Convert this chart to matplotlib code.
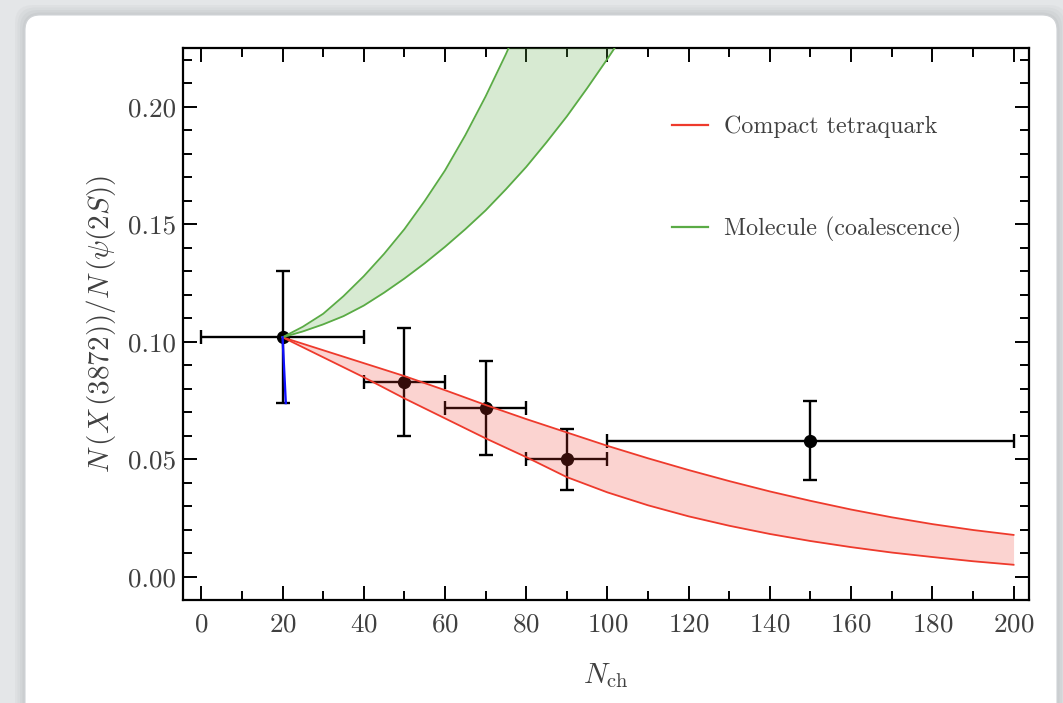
# coding: utf-8

import matplotlib
matplotlib.use("Agg")
import matplotlib.pyplot as plt
from matplotlib.patches import FancyBboxPatch
from matplotlib.ticker import MultipleLocator, FormatStrFormatter

# measured points: N_ch bin centre, bin half widths, ratio and its errors
nch = [20, 50, 70, 90, 150]
nch_lo = [20, 10, 10, 10, 50]
nch_hi = [20, 10, 10, 10, 50]
ratio = [0.102, 0.083, 0.072, 0.050, 0.058]
ratio_lo = [0.028, 0.023, 0.020, 0.0128, 0.0167]
ratio_hi = [0.028, 0.023, 0.020, 0.013, 0.017]

# compact tetraquark band
tq_x = [20, 30, 40, 50, 60, 70, 80, 90, 100, 110, 120, 130, 140, 150, 160, 170, 180, 190, 200]
tq_upper = [0.102, 0.0965, 0.091, 0.0855, 0.0795, 0.0732, 0.0672, 0.0615, 0.0558, 0.0505,
            0.0455, 0.0408, 0.0364, 0.0324, 0.0287, 0.0254, 0.0225, 0.0200, 0.0179]
tq_lower = [0.102, 0.0935, 0.085, 0.076, 0.0675, 0.059, 0.051, 0.0425, 0.036, 0.0305,
            0.0258, 0.0218, 0.0183, 0.0153, 0.0127, 0.0104, 0.0085, 0.0067, 0.0052]

# molecule (coalescence) band
mol_x = [20, 25, 30, 35, 40, 45, 50, 55, 60, 65, 70, 75, 80, 85, 90, 95, 100, 105, 110]
mol_upper = [0.102, 0.1065, 0.112, 0.1195, 0.128, 0.1375, 0.148, 0.160, 0.173, 0.188,
             0.2045, 0.2225, 0.242, 0.263, 0.285, 0.308, 0.332, 0.357, 0.383]
mol_lower = [0.102, 0.1045, 0.1075, 0.111, 0.1155, 0.121, 0.127, 0.1335, 0.1405, 0.148,
             0.156, 0.165, 0.1745, 0.185, 0.196, 0.208, 0.2205, 0.2335, 0.2475]

# blue segment at the first point
blue_x = [20, 20.8]
blue_y = [0.102, 0.074]

red = "#ee3a2c"
green = "#5aab45"
text_gray = "#404040"

plt.rcParams["font.family"] = "cmr10"
plt.rcParams["mathtext.fontset"] = "cm"
plt.rcParams["axes.formatter.use_mathtext"] = True

fig = plt.figure(figsize=(10.63, 7.03), dpi=100)
fig.patch.set_facecolor("#e4e6e8")

# paper card with a soft shadow
for i, a in enumerate([0.05, 0.05, 0.06, 0.08]):
    off = 0.10 - i * 0.025
    fig.patches.append(FancyBboxPatch((0.25 - off, -0.3), 10.32 + 2 * off, 7.18 + off,
                                      boxstyle="round,pad=0,rounding_size=0.18",
                                      transform=fig.dpi_scale_trans, facecolor="#7a7f84",
                                      edgecolor="none", alpha=a, zorder=-10))
fig.patches.append(FancyBboxPatch((0.25, -0.3), 10.32, 7.18,
                                  boxstyle="round,pad=0,rounding_size=0.15",
                                  transform=fig.dpi_scale_trans, facecolor="white",
                                  edgecolor="#d0d3d6", linewidth=0.8, zorder=-9))

ax = fig.add_axes([0.1722, 0.1465, 0.7958, 0.7852])
ax.set_facecolor("white")

ax.errorbar(nch, ratio, xerr=[nch_lo, nch_hi], yerr=[ratio_lo, ratio_hi], fmt="o",
            color="black", markersize=8.5, elinewidth=1.7, capsize=4.8, capthick=1.7, zorder=2)

ax.fill_between(tq_x, tq_lower, tq_upper, color=red, alpha=0.22, linewidth=0, zorder=3)
ax.plot(tq_x, tq_upper, color=red, linewidth=1.3, zorder=4)
ax.plot(tq_x, tq_lower, color=red, linewidth=1.3, zorder=4)

ax.fill_between(mol_x, mol_lower, mol_upper, color=green, alpha=0.24, linewidth=0, zorder=3)
ax.plot(mol_x, mol_upper, color=green, linewidth=1.3, zorder=4)
ax.plot(mol_x, mol_lower, color=green, linewidth=1.3, zorder=4)

ax.plot(blue_x, blue_y, color="#1010ff", linewidth=1.7, zorder=5)

# legend handles
ax.plot([], [], color=red, linewidth=1.6, label="Compact tetraquark")
ax.plot([], [], color=green, linewidth=1.6, label="Molecule (coalescence)")
leg = ax.legend(loc="upper left", bbox_to_anchor=(0.578, 0.877), frameon=False, fontsize=17.3,
                borderpad=0, borderaxespad=0, handlelength=1.5, handletextpad=0.67,
                labelspacing=3.25)
for t in leg.get_texts():
    t.set_color(text_gray)

ax.set_xlim(-4.5, 203.8)
ax.set_ylim(-0.0098, 0.2251)

ax.xaxis.set_major_locator(MultipleLocator(20))
ax.xaxis.set_minor_locator(MultipleLocator(10))
ax.yaxis.set_major_locator(MultipleLocator(0.05))
ax.yaxis.set_minor_locator(MultipleLocator(0.01))
ax.yaxis.set_major_formatter(FormatStrFormatter("%.2f"))

ax.tick_params(which="both", direction="in", top=True, right=True, width=1.4,
               labelsize=19.5, labelcolor=text_gray)
ax.tick_params(which="major", length=10)
ax.tick_params(which="minor", length=6.5)
ax.tick_params(axis="x", which="major", pad=9)
ax.tick_params(axis="y", which="major", pad=5)
for s in ax.spines.values():
    s.set_linewidth(1.6)

ax.set_xlabel(r"$N_{\mathrm{ch}}$", fontsize=21, color=text_gray, labelpad=18)
ax.set_ylabel(r"$N\,\left(X\,(3872)\right)/N\,\left(\psi(2S)\right)$", fontsize=21,
              color=text_gray, labelpad=7)

fig.savefig("out.png", dpi=100, facecolor=fig.get_facecolor())
